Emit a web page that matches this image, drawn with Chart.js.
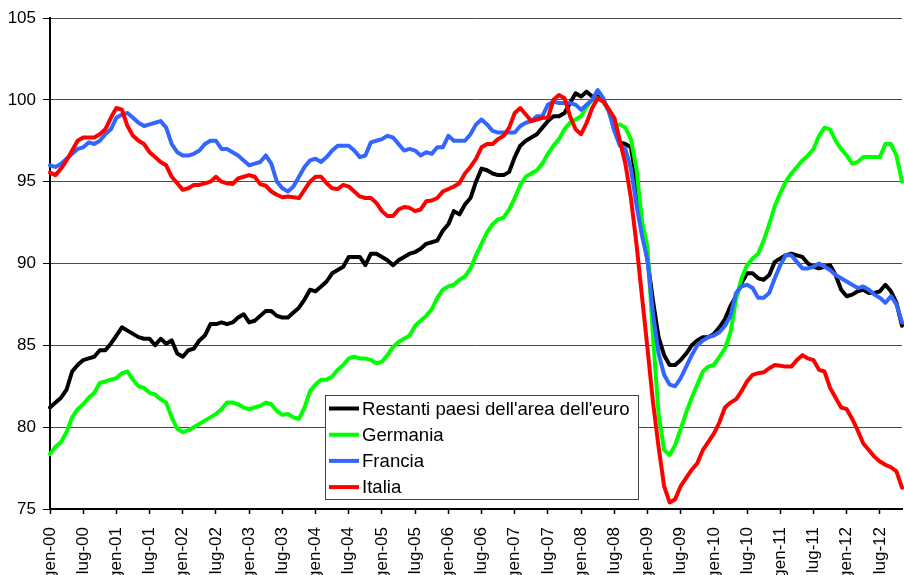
<!DOCTYPE html>
<html>
<head>
<meta charset="utf-8">
<script src="https://cdn.jsdelivr.net/npm/chart.js@4.4.0/dist/chart.umd.min.js"></script>
<style>
  html, body { margin: 0; padding: 0; background: #fff; overflow: hidden; }
</style>
</head>
<body>
<canvas id="chart" width="904" height="575"></canvas>
<script>
// month labels gen-00 ... nov-12 (one per month, label shown every 6 months)
const monthNames = ["gen","feb","mar","apr","mag","giu","lug","ago","set","ott","nov","dic"];
const years = ["00","01","02","03","04","05","06","07","08","09","10","11","12"];
const nPoints = 155;

const restanti = [
  81.2, 81.5, 81.8, 82.3, 83.4, 83.8, 84.1, 84.2, 84.3, 84.7,
  84.7, 85.1, 85.6, 86.1, 85.9, 85.7, 85.5, 85.4, 85.4, 85.0,
  85.4, 85.1, 85.3, 84.5, 84.3, 84.7, 84.8, 85.3, 85.6, 86.3,
  86.3, 86.4, 86.3, 86.4, 86.7, 86.9, 86.4, 86.5, 86.8, 87.1,
  87.1, 86.8, 86.7, 86.7, 87.0, 87.3, 87.8, 88.4, 88.3, 88.6,
  88.9, 89.4, 89.6, 89.8, 90.4, 90.4, 90.4, 89.9, 90.6, 90.6,
  90.4, 90.2, 89.9, 90.2, 90.4, 90.6, 90.7, 90.9, 91.2, 91.3,
  91.4, 92.0, 92.4, 93.2, 93.0, 93.6, 94.0, 95.0, 95.8, 95.7,
  95.5, 95.4, 95.4, 95.6, 96.5, 97.2, 97.5, 97.7, 97.9, 98.3,
  98.7, 99.0, 99.0, 99.2, 99.8, 100.4, 100.2, 100.5, 100.2, 100.2,
  99.9, 99.4, 98.8, 97.4, 97.3, 97.1, 95.0, 92.3, 90.2, 87.7,
  85.5, 84.4, 83.8, 83.8, 84.1, 84.5, 85.0, 85.3, 85.5, 85.5,
  85.7, 86.1, 86.6, 87.4, 88.0, 88.8, 89.4, 89.4, 89.1, 89.0,
  89.3, 90.1, 90.3, 90.5, 90.6, 90.5, 90.4, 90.0, 89.8, 89.7,
  89.8, 89.9, 89.3, 88.4, 88.0, 88.1, 88.3, 88.4, 88.2, 88.2,
  88.3, 88.7, 88.3, 87.6, 86.2
];

const germania = [
  78.35, 78.8, 79.1, 79.7, 80.6, 81.1, 81.4, 81.8, 82.1, 82.7,
  82.8, 82.9, 83.0, 83.3, 83.4, 82.9, 82.5, 82.4, 82.1, 82.0,
  81.7, 81.5, 80.6, 79.9, 79.7, 79.8, 80.0, 80.2, 80.4, 80.6,
  80.8, 81.1, 81.5, 81.5, 81.4, 81.2, 81.1, 81.2, 81.3, 81.5,
  81.4, 81.0, 80.75, 80.8, 80.6, 80.5, 81.2, 82.2, 82.6, 82.9,
  82.9, 83.1, 83.5, 83.8, 84.2, 84.3, 84.2, 84.2, 84.1, 83.9,
  84.0, 84.4, 84.9, 85.2, 85.4, 85.6, 86.2, 86.5, 86.8, 87.2,
  87.9, 88.4, 88.6, 88.7, 89.0, 89.2, 89.7, 90.5, 91.2, 91.9,
  92.4, 92.7, 92.8, 93.3, 94.0, 94.8, 95.3, 95.5, 95.7, 96.1,
  96.7, 97.2, 97.6, 98.2, 98.6, 98.8, 99.0, 99.6, 100.0, 100.1,
  99.9, 99.3, 98.3, 98.5, 98.3, 97.6, 95.8, 92.6, 91.0, 85.5,
  80.8, 78.6, 78.3, 78.9, 79.9, 80.9, 81.8, 82.6, 83.4, 83.7,
  83.8, 84.3, 84.8, 85.8, 87.8, 89.1, 89.9, 90.3, 90.6, 91.4,
  92.4, 93.5, 94.3, 95.0, 95.5, 95.9, 96.3, 96.6, 97.0, 97.8,
  98.3, 98.2, 97.5, 97.0, 96.6, 96.1, 96.2, 96.5, 96.5, 96.5,
  96.5, 97.3, 97.3, 96.6, 95.0
];

const francia = [
  96.0, 95.9, 96.1, 96.4, 96.7, 97.0, 97.1, 97.4, 97.3, 97.5,
  97.9, 98.2, 98.9, 99.1, 99.2, 98.9, 98.6, 98.4, 98.5, 98.6,
  98.7, 98.3, 97.3, 96.8, 96.6, 96.6, 96.7, 96.9, 97.3, 97.5,
  97.5, 97.0, 97.0, 96.8, 96.6, 96.3, 96.0, 96.1, 96.2, 96.6,
  96.1, 95.0, 94.6, 94.4, 94.7, 95.3, 95.9, 96.3, 96.4, 96.2,
  96.5, 96.9, 97.2, 97.2, 97.2, 96.9, 96.5, 96.6, 97.4, 97.5,
  97.6, 97.8, 97.7, 97.3, 96.9, 97.0, 96.9, 96.6, 96.8, 96.7,
  97.1, 97.1, 97.8, 97.5, 97.5, 97.5, 97.9, 98.5, 98.8, 98.5,
  98.1, 98.0, 98.0, 98.0, 98.0, 98.4, 98.6, 98.7, 99.0, 99.0,
  99.7, 99.9, 99.8, 99.8, 99.8, 99.7, 99.4, 99.7, 100.0, 100.6,
  100.1, 99.3, 98.1, 97.2, 97.0, 95.8, 93.6, 91.7, 90.2, 86.9,
  84.5, 83.2, 82.6, 82.5, 83.0, 83.7, 84.4, 85.0, 85.3, 85.5,
  85.6, 85.8, 86.2, 86.8, 88.2, 88.6, 88.7, 88.5, 87.9, 87.9,
  88.2, 89.1, 89.9, 90.5, 90.5, 90.1, 89.7, 89.7, 89.8, 90.0,
  89.8, 89.6, 89.3, 89.1, 88.9, 88.7, 88.5, 88.6, 88.4, 88.1,
  87.9, 87.6, 88.0, 87.5, 86.4
];

const italia = [
  95.55, 95.4, 95.8, 96.3, 96.9, 97.5, 97.7, 97.7, 97.7, 97.9,
  98.2, 98.9, 99.5, 99.4, 98.4, 97.8, 97.5, 97.3, 96.8, 96.5,
  96.2, 96.0, 95.3, 94.9, 94.5, 94.6, 94.8, 94.8, 94.9, 95.0,
  95.3, 95.0, 94.9, 94.85, 95.2, 95.3, 95.4, 95.3, 94.85, 94.75,
  94.4, 94.2, 94.05, 94.1, 94.05, 94.0, 94.5, 95.0, 95.3, 95.3,
  94.9, 94.6, 94.55, 94.8, 94.7, 94.4, 94.1, 94.0, 94.0, 93.7,
  93.2, 92.9, 92.9, 93.3, 93.45, 93.4, 93.2, 93.3, 93.8, 93.85,
  94.0, 94.4, 94.55, 94.7, 94.9, 95.5, 95.9, 96.4, 97.1, 97.3,
  97.3, 97.6, 97.8, 98.3, 99.2, 99.5, 99.1, 98.7, 98.8, 98.9,
  98.9, 100.0, 100.3, 100.1, 99.0, 98.2, 97.9, 98.6, 99.5, 100.1,
  99.9, 99.4, 98.9, 97.5, 96.1, 94.0, 91.2, 88.0, 84.8, 81.5,
  78.8, 76.4, 75.4, 75.6, 76.4, 76.9, 77.4, 77.8, 78.6, 79.1,
  79.6, 80.3, 81.2, 81.5, 81.7, 82.2, 82.8, 83.2, 83.3, 83.35,
  83.6, 83.8, 83.75, 83.7, 83.7, 84.1, 84.4, 84.2, 84.1, 83.5,
  83.4, 82.4, 81.8, 81.2, 81.1, 80.5, 79.8, 79.0, 78.6, 78.2,
  77.9, 77.7, 77.55, 77.3, 76.3
];

const labels = [];
for (let i = 0; i < nPoints; i++) {
  labels.push(monthNames[i % 12] + "-" + years[Math.floor(i / 12)]);
}

const FONT = '"Liberation Sans", Arial, sans-serif';

// legend drawn inside the plot, as in the original
const legendBox = {
  id: "legendBox",
  afterDatasetsDraw(chart) {
    const c = chart.ctx;
    c.save();
    c.fillStyle = "#fff";
    c.fillRect(325.5, 395.5, 313, 104);
    c.strokeStyle = "#444";
    c.lineWidth = 1;
    c.strokeRect(325.5, 395.5, 313, 104);
    chart.data.datasets.forEach((ds, k) => {
      const y = 408.5 + k * 26.2;
      c.strokeStyle = ds.borderColor;
      c.lineWidth = 4;
      c.beginPath();
      c.moveTo(329, y);
      c.lineTo(359, y);
      c.stroke();
      c.fillStyle = "#000";
      c.font = "18.6px " + FONT;
      c.textBaseline = "middle";
      c.fillText(ds.label, 362, y + 1);
    });
    c.restore();
  }
};

function series(label, data, color, order) {
  return {
    label, data, order,
    borderColor: color,
    backgroundColor: color,
    borderWidth: 4,
    borderJoinStyle: "round",
    borderCapStyle: "round",
    pointRadius: 0,
    tension: 0,
    fill: false
  };
}

new Chart(document.getElementById("chart"), {
  type: "line",
  data: {
    labels: labels,
    datasets: [
      series("Restanti paesi dell'area dell'euro", restanti, "#000000", 3),
      series("Germania", germania, "#00ff00", 2),
      series("Francia", francia, "#3366ff", 1),
      series("Italia", italia, "#ff0000", 0)
    ]
  },
  options: {
    responsive: false,
    animation: false,
    devicePixelRatio: 1,
    layout: { padding: { top: 18, right: 2, left: 0, bottom: 0 } },
    plugins: { legend: { display: false }, tooltip: { enabled: false } },
    scales: {
      x: {
        type: "category",
        offset: false,
        border: { color: "#000", width: 2 },
        grid: {
          drawOnChartArea: false,
          tickLength: 5,
          tickWidth: 1.5,
          tickColor: ctx => (ctx.index % 6 === 0 ? "#000" : "rgba(0,0,0,0)")
        },
        ticks: {
          autoSkip: false,
          maxRotation: 90,
          minRotation: 90,
          padding: 13,
          color: "#000",
          font: { family: FONT, size: 17 },
          callback: (v, i) => (i % 6 === 0 ? labels[i] : "")
        },
        afterFit: s => {
          s.height = 66;
          s.paddingLeft = 0;
          s.paddingRight = 0;
        }
      },
      y: {
        min: 75,
        max: 105,
        border: { color: "#000", width: 2 },
        grid: {
          color: ctx => (ctx.tick && ctx.tick.value === 75 ? "rgba(0,0,0,0)" : "#4a4a4a"),
          lineWidth: 1,
          tickLength: 7,
          tickColor: "#000"
        },
        ticks: {
          stepSize: 5,
          padding: 7,
          color: "#000",
          font: { family: FONT, size: 17 }
        },
        afterFit: s => { s.width = 50; }
      }
    }
  },
  plugins: [legendBox]
});
</script>
</body>
</html>
